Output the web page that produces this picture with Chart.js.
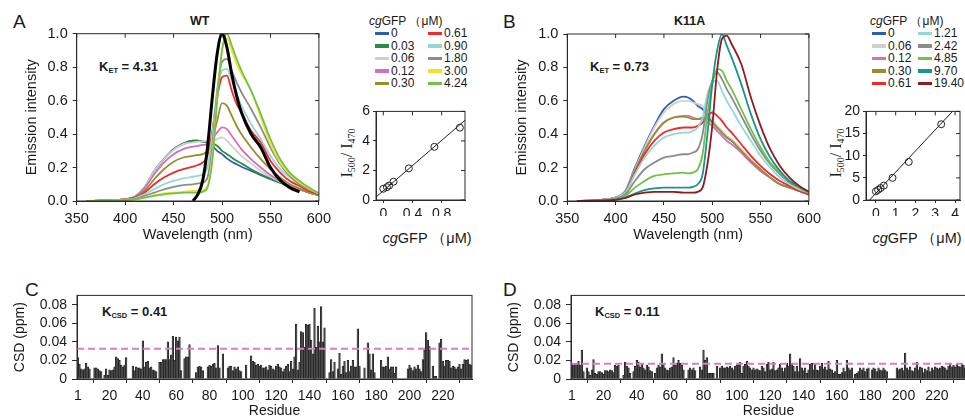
<!DOCTYPE html>
<html>
<head>
<meta charset="utf-8">
<script src="https://cdn.jsdelivr.net/npm/chart.js@4.4.1/dist/chart.umd.min.js"></script>
<style>
html, body { margin: 0; padding: 0; background: #fff; overflow: hidden; width: 965px; height: 417px; }
body { position: relative; font-family: "Liberation Sans", Arial, sans-serif; color: #1a1a1a; }
.box { position: absolute; }
.txt { position: absolute; white-space: nowrap; line-height: 1; }
.letter { font-size: 19px; }
.ttl { font-size: 12.5px; font-weight: bold; }
.k { font-size: 13px; font-weight: bold; }
.k sub { font-size: 7.5px; vertical-align: -2px; }
.leg { font-size: 12px; }
.sw { position: absolute; height: 3.5px; width: 14px; }
.rot { position: absolute; white-space: nowrap; line-height: 1; transform: translate(-50%, -50%) rotate(-90deg); font-family: "Liberation Serif", serif; font-size: 16px; }
.rot sub { font-size: 10px; vertical-align: -3px; }
.xt { font-size: 14.5px; transform: translateX(-50%); }
</style>
</head>
<body>

<div class="txt letter" style="left:13px;top:12px">A</div>
<div class="txt letter" style="left:503px;top:12px">B</div>
<div class="txt letter" style="left:25px;top:280px">C</div>
<div class="txt letter" style="left:503px;top:280px">D</div>

<div class="txt ttl" style="left:190px;top:15px">WT</div>
<div class="txt ttl" style="left:674px;top:15px">K11A</div>

<div class="txt k" style="left:99px;top:60px">K<sub>ET</sub> = 4.31</div>
<div class="txt k" style="left:590px;top:60px">K<sub>ET</sub> = 0.73</div>
<div class="txt k" style="left:102px;top:305px">K<sub>CSD</sub> = 0.41</div>
<div class="txt k" style="left:595px;top:305px">K<sub>CSD</sub> = 0.11</div>

<div id="legA" class="box" style="left:369px;top:14px;width:100px;height:90px"></div>
<div id="legB" class="box" style="left:870px;top:14px;width:95px;height:90px"></div>

<div class="rot" style="left:348px;top:153px">I<sub>500</sub>/ I<sub>470</sub></div>
<div class="rot" style="left:837px;top:153px">I<sub>500</sub>/ I<sub>470</sub></div>
<div class="txt xt" style="left:427px;top:231px"><i>cg</i>GFP （μM)</div>
<div class="txt xt" style="left:917px;top:231px"><i>cg</i>GFP （μM)</div>

<div class="box" style="left:0px;top:20px;width:336px;height:230px"><canvas id="specA"></canvas></div>
<div class="box" style="left:490px;top:20px;width:336px;height:230px"><canvas id="specB"></canvas></div>
<div class="box" style="left:355px;top:100px;width:115px;height:116px"><canvas id="ratioA"></canvas></div>
<div class="box" style="left:845px;top:100px;width:120px;height:116px"><canvas id="ratioB"></canvas></div>
<div class="box" style="left:0px;top:282px;width:480px;height:138px"><canvas id="csdC"></canvas></div>
<div class="box" style="left:494px;top:282px;width:480px;height:138px"><canvas id="csdD"></canvas></div>

<script>
// ---- spectra (panels A, B) ----
const wavelengths = [360, 380, 400, 410, 420, 430, 440, 450, 460, 470, 475, 480, 485, 490, 495, 500, 505, 510, 515, 520, 530, 540, 550, 560, 570, 580, 590, 600];
const wlTicks = [350, 400, 450, 500, 550, 600];
const intensityTicks = [0, 0.2, 0.4, 0.6, 0.8, 1.0];

const wtConc = ['0', '0.03', '0.06', '0.12', '0.30', '0.61', '0.90', '1.80', '3.00', '4.24'];
const wtColors = ['#2c5fae', '#2f8c3f', '#cfcfcf', '#d46fbf', '#9c8c2c', '#ee2b2b', '#93d8d6', '#8c8c8c', '#f2e424', '#70c04c'];
const wt0   = [0, 0.003, 0.01, 0.025, 0.08, 0.18, 0.25, 0.31, 0.34, 0.36, 0.36, 0.355, 0.35, 0.33, 0.30, 0.28, 0.255, 0.235, 0.22, 0.205, 0.18, 0.155, 0.13, 0.11, 0.09, 0.07, 0.05, 0.035];
const wt003 = [0, 0.003, 0.01, 0.025, 0.08, 0.18, 0.25, 0.31, 0.345, 0.36, 0.36, 0.355, 0.35, 0.345, 0.33, 0.30, 0.28, 0.26, 0.24, 0.225, 0.19, 0.16, 0.135, 0.11, 0.09, 0.07, 0.05, 0.035];
const wt006 = [0, 0.003, 0.01, 0.025, 0.08, 0.18, 0.25, 0.305, 0.34, 0.35, 0.355, 0.355, 0.36, 0.36, 0.37, 0.38, 0.36, 0.33, 0.30, 0.27, 0.225, 0.18, 0.145, 0.115, 0.09, 0.07, 0.05, 0.035];
const wt012 = [0, 0.003, 0.01, 0.024, 0.075, 0.16, 0.23, 0.28, 0.31, 0.325, 0.33, 0.335, 0.34, 0.37, 0.41, 0.44, 0.43, 0.39, 0.35, 0.31, 0.25, 0.20, 0.155, 0.12, 0.09, 0.07, 0.05, 0.035];
const wt030 = [0, 0.003, 0.01, 0.022, 0.06, 0.13, 0.19, 0.235, 0.26, 0.27, 0.275, 0.28, 0.30, 0.37, 0.48, 0.585, 0.57, 0.51, 0.45, 0.40, 0.32, 0.25, 0.19, 0.14, 0.10, 0.075, 0.05, 0.035];
const wt061 = [0, 0.003, 0.01, 0.02, 0.05, 0.10, 0.14, 0.17, 0.19, 0.205, 0.215, 0.23, 0.27, 0.42, 0.62, 0.74, 0.75, 0.66, 0.58, 0.53, 0.42, 0.35, 0.24, 0.17, 0.12, 0.09, 0.06, 0.04];
const wt090 = [0, 0.002, 0.008, 0.016, 0.04, 0.07, 0.10, 0.12, 0.135, 0.145, 0.15, 0.16, 0.20, 0.40, 0.66, 0.78, 0.79, 0.72, 0.64, 0.57, 0.46, 0.37, 0.27, 0.19, 0.14, 0.10, 0.07, 0.045];
const wt180 = [0, 0.002, 0.006, 0.013, 0.03, 0.05, 0.07, 0.085, 0.095, 0.10, 0.105, 0.11, 0.14, 0.33, 0.66, 0.83, 0.85, 0.78, 0.71, 0.65, 0.55, 0.44, 0.32, 0.22, 0.15, 0.10, 0.07, 0.045];
const wt300 = [0, 0.002, 0.005, 0.01, 0.02, 0.035, 0.045, 0.05, 0.055, 0.06, 0.06, 0.065, 0.09, 0.27, 0.62, 0.90, 0.97, 0.90, 0.82, 0.76, 0.66, 0.50, 0.34, 0.23, 0.16, 0.11, 0.075, 0.045];
const wt424 = [0, 0.002, 0.005, 0.01, 0.02, 0.03, 0.04, 0.045, 0.05, 0.05, 0.05, 0.055, 0.08, 0.24, 0.60, 0.90, 1.0, 0.93, 0.85, 0.78, 0.66, 0.52, 0.37, 0.25, 0.17, 0.12, 0.08, 0.045];
const wtAcceptor = [null, null, null, null, null, null, null, null, null, 0, 0.04, 0.12, 0.32, 0.62, 0.88, 1.0, 0.92, 0.76, 0.63, 0.53, 0.40, 0.32, 0.20, 0.125, 0.08, 0.055, null, null];

const k11aConc = ['0', '0.06', '0.12', '0.30', '0.61', '1.21', '2.42', '4.85', '9.70', '19.40'];
const k11aColors = ['#2c5fae', '#cfcfcf', '#d46fbf', '#9c8c2c', '#ee2b2b', '#93d8d6', '#8c8c8c', '#70c04c', '#17958f', '#8e1c1f'];
const k0    = [0, 0.005, 0.02, 0.06, 0.20, 0.33, 0.45, 0.55, 0.60, 0.625, 0.62, 0.60, 0.57, 0.55, 0.51, 0.47, 0.44, 0.41, 0.38, 0.36, 0.30, 0.24, 0.18, 0.14, 0.10, 0.08, 0.06, 0.04];
const k006  = [0, 0.005, 0.02, 0.06, 0.19, 0.32, 0.44, 0.53, 0.58, 0.60, 0.60, 0.59, 0.58, 0.57, 0.53, 0.49, 0.45, 0.42, 0.39, 0.37, 0.31, 0.25, 0.19, 0.14, 0.10, 0.08, 0.06, 0.04];
const k012  = [0, 0.005, 0.02, 0.055, 0.18, 0.30, 0.40, 0.47, 0.50, 0.51, 0.51, 0.50, 0.49, 0.49, 0.47, 0.45, 0.42, 0.39, 0.36, 0.34, 0.29, 0.23, 0.18, 0.14, 0.10, 0.08, 0.06, 0.04];
const k030  = [0, 0.005, 0.02, 0.055, 0.18, 0.30, 0.40, 0.47, 0.50, 0.505, 0.50, 0.49, 0.49, 0.50, 0.49, 0.47, 0.44, 0.41, 0.38, 0.36, 0.30, 0.24, 0.19, 0.14, 0.10, 0.08, 0.06, 0.04];
const k061  = [0, 0.005, 0.02, 0.05, 0.17, 0.28, 0.36, 0.41, 0.43, 0.44, 0.44, 0.44, 0.45, 0.47, 0.51, 0.53, 0.51, 0.48, 0.44, 0.41, 0.34, 0.27, 0.21, 0.16, 0.12, 0.09, 0.06, 0.04];
const k121  = [0, 0.005, 0.02, 0.05, 0.16, 0.26, 0.33, 0.38, 0.40, 0.41, 0.41, 0.42, 0.44, 0.50, 0.64, 0.71, 0.72, 0.66, 0.60, 0.55, 0.45, 0.36, 0.27, 0.20, 0.14, 0.10, 0.07, 0.05];
const k242  = [0, 0.004, 0.015, 0.04, 0.12, 0.19, 0.23, 0.26, 0.27, 0.28, 0.28, 0.29, 0.31, 0.40, 0.60, 0.72, 0.77, 0.73, 0.67, 0.62, 0.51, 0.40, 0.30, 0.22, 0.16, 0.11, 0.08, 0.05];
const k485  = [0, 0.003, 0.01, 0.03, 0.08, 0.12, 0.15, 0.16, 0.165, 0.17, 0.165, 0.17, 0.19, 0.28, 0.52, 0.70, 0.79, 0.78, 0.72, 0.67, 0.55, 0.43, 0.32, 0.23, 0.17, 0.12, 0.08, 0.05];
const k970  = [0, 0.002, 0.008, 0.02, 0.045, 0.065, 0.075, 0.08, 0.08, 0.08, 0.08, 0.085, 0.10, 0.16, 0.40, 0.70, 0.90, 1.0, 0.93, 0.86, 0.70, 0.52, 0.37, 0.26, 0.18, 0.12, 0.085, 0.055];
const k1940 = [0, 0.002, 0.007, 0.018, 0.04, 0.05, 0.055, 0.055, 0.055, 0.05, 0.05, 0.05, 0.055, 0.08, 0.22, 0.45, 0.78, 0.97, 0.99, 0.94, 0.82, 0.62, 0.45, 0.31, 0.21, 0.14, 0.09, 0.055];

// ---- I500/I470 insets ----
const wtRatioX = [0, 0.05, 0.08, 0.14, 0.35, 0.70, 1.05];
const wtRatioY = [0.76, 0.87, 0.98, 1.24, 2.14, 3.60, 4.90];
const wtFitX = [-0.1, 1.12];
const wtFitY = [0.2, 5.4];
const wtRatioTicksX = [0, 0.4, 0.8];
const wtRatioTicksY = [0, 2, 4, 6];

const k11aRatioX = [0, 0.11, 0.24, 0.40, 0.84, 1.66, 3.30];
const k11aRatioY = [1.95, 2.3, 2.7, 3.25, 5.0, 8.6, 17.1];
const k11aFitX = [-0.32, 3.87];
const k11aFitY = [0, 20];
const k11aRatioTicksX = [0, 1, 2, 3, 4];
const k11aRatioTicksY = [0, 5, 10, 15, 20];

// ---- chemical shift differences (panels C, D) ----
const residueTicks = [1, 20, 40, 60, 80, 100, 120, 140, 160, 180, 200, 220];
const csdTicks = [0, 0.02, 0.04, 0.06, 0.08];
const csdCutWT = 0.0325;
const csdCutK11A = 0.0163;

const csdWT = [
  0.023, 0.016, 0.011, 0.010, 0.011, 0.017, 0.013, 0.011, null, null,
  0.012, 0.012, 0.011, 0.009, 0.008, null, 0.004, 0.011, 0.004, 0.010,
  0.009, 0.010, 0.013, 0.024, 0.022, 0.020, 0.015, 0.013, 0.015, 0.023,
  null, null, null, 0.014, 0.009, 0.013, 0.012, 0.012, 0.011, 0.041,
  0.013, 0.018, 0.019, 0.012, 0.013, 0.010, 0.009, 0.008, null, 0.018,
  0.018, 0.021, 0.021, 0.021, 0.040, 0.021, 0.026, 0.046, 0.020, 0.045,
  0.041, 0.045, 0.009, null, 0.022, 0.024, 0.024, 0.037, null, null,
  null, 0.007, 0.013, 0.014, 0.013, 0.009, null, null, 0.013, 0.015,
  0.014, 0.016, 0.017, 0.012, 0.036, 0.012, null, 0.027, null, null,
  0.012, 0.014, 0.014, 0.009, 0.013, 0.011, 0.013, 0.009, 0.008, null,
  null, 0.015, null, null, 0.025, 0.019, 0.018, 0.015, 0.016, 0.014,
  0.015, 0.012, 0.012, 0.013, 0.010, 0.015, 0.014, 0.011, 0.010, 0.014,
  0.016, 0.013, 0.012, 0.008, 0.011, 0.014, 0.016, 0.008, 0.019, 0.011,
  0.024, 0.059, 0.010, 0.018, 0.051, 0.050, 0.034, 0.059, 0.058, 0.059,
  0.042, 0.027, 0.076, 0.034, 0.057, 0.040, 0.078, 0.040, 0.055, null,
  null, 0.007, 0.021, 0.008, 0.018, null, 0.011, 0.028, 0.005, 0.014,
  0.019, 0.007, 0.020, 0.008, 0.014, 0.020, 0.013, 0.013, 0.054, 0.014,
  null, null, 0.012, null, 0.039, 0.027, 0.010, 0.027, 0.007, null,
  null, null, 0.020, 0.013, 0.013, 0.014, 0.024, 0.011, 0.013, 0.013,
  0.006, 0.013, null, null, null, null, null, null, 0.011, 0.015,
  0.012, 0.009, 0.013, 0.011, 0.015, 0.011, 0.008, 0.021, 0.031, 0.050,
  0.042, 0.035, null, 0.014, 0.003, 0.003, null, 0.039, 0.043, 0.019,
  0.014, 0.020, 0.020, 0.019, 0.012, 0.014, 0.013, 0.011, 0.013, 0.016,
  0.011, 0.016, 0.021, 0.020, 0.021, 0.016, 0.015
];

const csdK11A = [
  0.017, 0.015, 0.016, 0.017, 0.019, 0.015, 0.031, 0.008, null, 0.012,
  0.008, 0.004, 0.010, 0.021, 0.006, 0.005, 0.008, 0.008, 0.007, 0.005,
  0.009, 0.009, 0.008, 0.010, 0.009, 0.007, 0.015, 0.014, 0.015, null,
  null, 0.004, 0.018, 0.014, 0.012, 0.006, null, 0.008, 0.014, 0.020,
  0.018, 0.013, 0.016, 0.012, 0.010, 0.015, 0.013, 0.009, 0.008, null,
  0.006, 0.012, 0.015, 0.013, 0.027, 0.017, 0.012, 0.010, 0.009, 0.012,
  0.013, 0.023, 0.015, 0.017, 0.020, 0.017, 0.015, 0.010, null, null,
  0.010, 0.012, 0.010, 0.012, 0.009, null, null, 0.013, 0.010, 0.031,
  0.020, 0.023, 0.006, 0.006, 0.006, 0.006, null, 0.014, null, 0.012,
  0.014, 0.012, 0.012, 0.013, 0.012, 0.014, 0.012, 0.010, 0.014, 0.015,
  0.017, 0.018, 0.006, 0.014, 0.016, 0.019, 0.014, 0.012, 0.010, 0.012,
  0.010, 0.011, 0.010, 0.009, 0.014, 0.012, 0.008, 0.016, 0.018, 0.010,
  0.011, 0.018, 0.009, 0.010, 0.012, 0.016, 0.012, 0.008, 0.012, 0.017,
  0.014, 0.027, 0.016, 0.014, 0.008, 0.014, 0.008, 0.022, 0.012, 0.009,
  0.012, 0.006, 0.010, 0.016, 0.017, 0.010, 0.016, 0.010, 0.009, 0.014,
  0.017, 0.011, 0.013, 0.010, 0.019, 0.011, 0.010, 0.006, 0.008, 0.020,
  0.005, 0.005, 0.007, 0.012, 0.008, 0.020, 0.012, 0.010, 0.012, null,
  0.005, 0.006, 0.008, 0.012, 0.010, 0.012, 0.008, 0.011, 0.012, null,
  0.010, 0.012, 0.011, 0.008, 0.012, 0.010, 0.009, 0.012, 0.010, 0.008,
  null, null, null, null, null, 0.012, 0.010, 0.011, 0.012, 0.009,
  0.028, 0.012, 0.010, 0.013, 0.009, 0.008, 0.012, 0.018, 0.010, 0.013,
  0.012, 0.007, 0.011, 0.009, 0.013, 0.008, 0.012, 0.010, 0.013, 0.012,
  0.011, 0.012, 0.014, 0.013, 0.012, 0.010, 0.014, 0.016, 0.013, 0.015,
  0.013, 0.016, 0.014, 0.013, 0.016, 0.015, 0.012
];
const residues = csdWT.map((v, i) => i + 1);

Chart.defaults.font.family = '"Liberation Sans", Arial, sans-serif';
Chart.defaults.color = '#1a1a1a';
Chart.defaults.animation = false;
Chart.defaults.plugins.legend.display = false;
Chart.defaults.plugins.tooltip.enabled = false;

const AX = '#2a2a2a';

// box round the plot, inner mirror ticks, dashed cut-off line
const framePlugin = {
  id: 'frame',
  afterDatasetsDraw(chart, args, opts) {
    const {ctx, chartArea: a, scales} = chart;
    const x = scales.x, y = scales.y;
    ctx.save();
    if (opts.cut != null) {
      const py = y.getPixelForValue(opts.cut);
      ctx.strokeStyle = '#d67fc9';
      ctx.lineWidth = 2;
      ctx.setLineDash([7, 4]);
      ctx.beginPath(); ctx.moveTo(a.left, py); ctx.lineTo(a.right, py); ctx.stroke();
      ctx.setLineDash([]);
    }
    ctx.strokeStyle = AX;
    ctx.lineWidth = 1;
    ctx.strokeRect(a.left, a.top, a.right - a.left, a.bottom - a.top);
    if (opts.mirror) {
      ctx.beginPath();
      y.ticks.forEach(t => {
        const py = y.getPixelForValue(t.value);
        ctx.moveTo(a.right, py); ctx.lineTo(a.right - 4, py);
      });
      x.ticks.forEach(t => {
        const px = x.getPixelForValue(t.value);
        ctx.moveTo(px, a.top); ctx.lineTo(px, a.top + 4);
      });
      ctx.stroke();
    }
    ctx.restore();
  }
};

function axis(o) {
  const ax = {
    type: o.type || 'linear',
    min: o.min,
    max: o.max,
    afterFit: s => {
      if (o.w != null) s.width = o.w;
      if (o.h != null) s.height = o.h;
    },
    grid: {display: true, drawOnChartArea: false, drawTicks: true, tickLength: o.tl, color: AX},
    border: {display: true, color: AX},
    ticks: {font: {size: o.fs}, padding: o.pad, color: '#1a1a1a', autoSkip: false, maxRotation: 0, minRotation: 0},
    title: o.title ? {display: true, text: o.title, font: {size: o.tfs || 14.5}, color: '#1a1a1a', padding: o.tpad} : {display: false}
  };
  if (o.ticks) ax.afterBuildTicks = s => { s.ticks = o.ticks.map(v => ({value: v})); };
  if (o.fmt) ax.ticks.callback = o.fmt;
  return ax;
}

function spectra(id, series, colors, extra, pad, yw) {
  const sets = series.map((vals, i) => ({
    data: wavelengths.map((w, j) => ({x: w, y: vals[j]})),
    borderColor: colors[i],
    borderWidth: 1.8,
    pointRadius: 0,
    cubicInterpolationMode: 'monotone',
    order: 50 - i
  }));
  if (extra) {
    sets.push({
      data: wavelengths.map((w, j) => ({x: w, y: extra[j]})),
      borderColor: '#000',
      borderWidth: 3,
      pointRadius: 0,
      cubicInterpolationMode: 'monotone',
      order: 0
    });
  }
  return new Chart(document.getElementById(id), {
    type: 'line',
    data: {datasets: sets},
    options: {
      responsive: true,
      maintainAspectRatio: false,
      layout: {padding: pad},
      scales: {
        x: axis({min: 350, max: 600, ticks: wlTicks, w: null, h: 49, tl: 4, pad: 5, fs: 14.5,
                 title: 'Wavelength (nm)', tpad: {top: 0, bottom: 6}}),
        y: axis({min: 0, max: 1, ticks: intensityTicks, w: yw, tl: 4, pad: 5, fs: 14.5,
                 fmt: v => v.toFixed(1), title: 'Emission intensity', tpad: {top: 23, bottom: 0}})
      },
      plugins: {frame: {mirror: true}}
    },
    plugins: [framePlugin]
  });
}

function ratio(id, xs, ys, fitX, fitY, xr, xt, yt, ymax, pad) {
  return new Chart(document.getElementById(id), {
    type: 'scatter',
    data: {
      datasets: [
        {
          data: xs.map((v, i) => ({x: v, y: ys[i]})),
          pointStyle: 'circle', pointRadius: 3.5, borderWidth: 1,
          borderColor: '#222', backgroundColor: 'rgba(0,0,0,0)', order: 0
        },
        {
          type: 'line',
          data: fitX.map((v, i) => ({x: v, y: fitY[i]})),
          borderColor: '#222', borderWidth: 1, pointRadius: 0, order: 1
        }
      ]
    },
    options: {
      responsive: true,
      maintainAspectRatio: false,
      layout: {padding: pad},
      scales: {
        x: axis({min: xr[0], max: xr[1], ticks: xt, h: 16, tl: 3, pad: 3, fs: 14}),
        y: axis({min: 0, max: ymax, ticks: yt, w: 21, tl: 3, pad: 3, fs: 14})
      },
      plugins: {frame: {mirror: true}}
    },
    plugins: [framePlugin]
  });
}

function csd(id, values, cut) {
  return new Chart(document.getElementById(id), {
    type: 'bar',
    data: {
      labels: residues,
      datasets: [{
        data: values,
        backgroundColor: '#4a4a4a',
        borderColor: '#1c1c1c',
        borderWidth: 0.6,
        categoryPercentage: 1,
        barPercentage: 1
      }]
    },
    options: {
      responsive: true,
      maintainAspectRatio: false,
      layout: {padding: {top: 9.7, right: 8, left: 0, bottom: 0}},
      scales: {
        x: axis({type: 'category', h: 41, tl: 4, pad: 5, fs: 14,
                 fmt: (v, i) => residueTicks.includes(residues[i]) ? String(residues[i]) : null,
                 title: 'Residue', tfs: 14, tpad: {top: 0, bottom: 0}}),
        y: axis({min: 0, max: 0.09, ticks: csdTicks, w: 77, tl: 5, pad: 5, fs: 14,
                 fmt: v => v === 0 ? '0' : v.toFixed(2), title: 'CSD (ppm)', tfs: 14, tpad: {top: 12, bottom: 0}})
      },
      plugins: {frame: {cut: cut}}
    },
    plugins: [framePlugin]
  });
}

function legend(id, conc, colors, col2) {
  const el = document.getElementById(id);
  let html = '<div class="txt leg" style="left:0;top:1px"><i>cg</i>GFP （μM)</div>';
  conc.forEach((c, i) => {
    const col = Math.floor(i / 5), row = i % 5;
    const cx = col2[col], cy = 19.3 + row * 12.5;
    html += '<div class="sw" style="left:' + cx + 'px;top:' + (cy - 1.75) + 'px;background:' + colors[i] + '"></div>';
    html += '<div class="txt leg" style="left:' + (cx + 16) + 'px;top:' + (cy - 6) + 'px">' + c + '</div>';
  });
  el.innerHTML = html;
}

legend('legA', wtConc, wtColors, [6, 59]);
legend('legB', k11aConc, k11aColors, [2, 48]);

spectra('specA', [wt0, wt003, wt006, wt012, wt030, wt061, wt090, wt180, wt300, wt424], wtColors, wtAcceptor,
        {top: 13.3, right: 9.3, left: 0, bottom: 0}, 76.7);
spectra('specB', [k0, k006, k012, k030, k061, k121, k242, k485, k970, k1940], k11aColors, null,
        {top: 14, right: 9.3, left: 0, bottom: 0}, 77.3);

ratio('ratioA', wtRatioX, wtRatioY, wtFitX, wtFitY, [-0.1, 1.12], wtRatioTicksX, wtRatioTicksY, 6,
      {top: 8.3, right: 4.3, left: 0, bottom: 0});
ratio('ratioB', k11aRatioX, k11aRatioY, k11aFitX, k11aFitY, [-0.5, 4.25], k11aRatioTicksX, k11aRatioTicksY, 20,
      {top: 8.3, right: 1, left: 0, bottom: 0});

csd('csdC', csdWT, csdCutWT);
csd('csdD', csdK11A, csdCutK11A);
</script>
</body>
</html>
